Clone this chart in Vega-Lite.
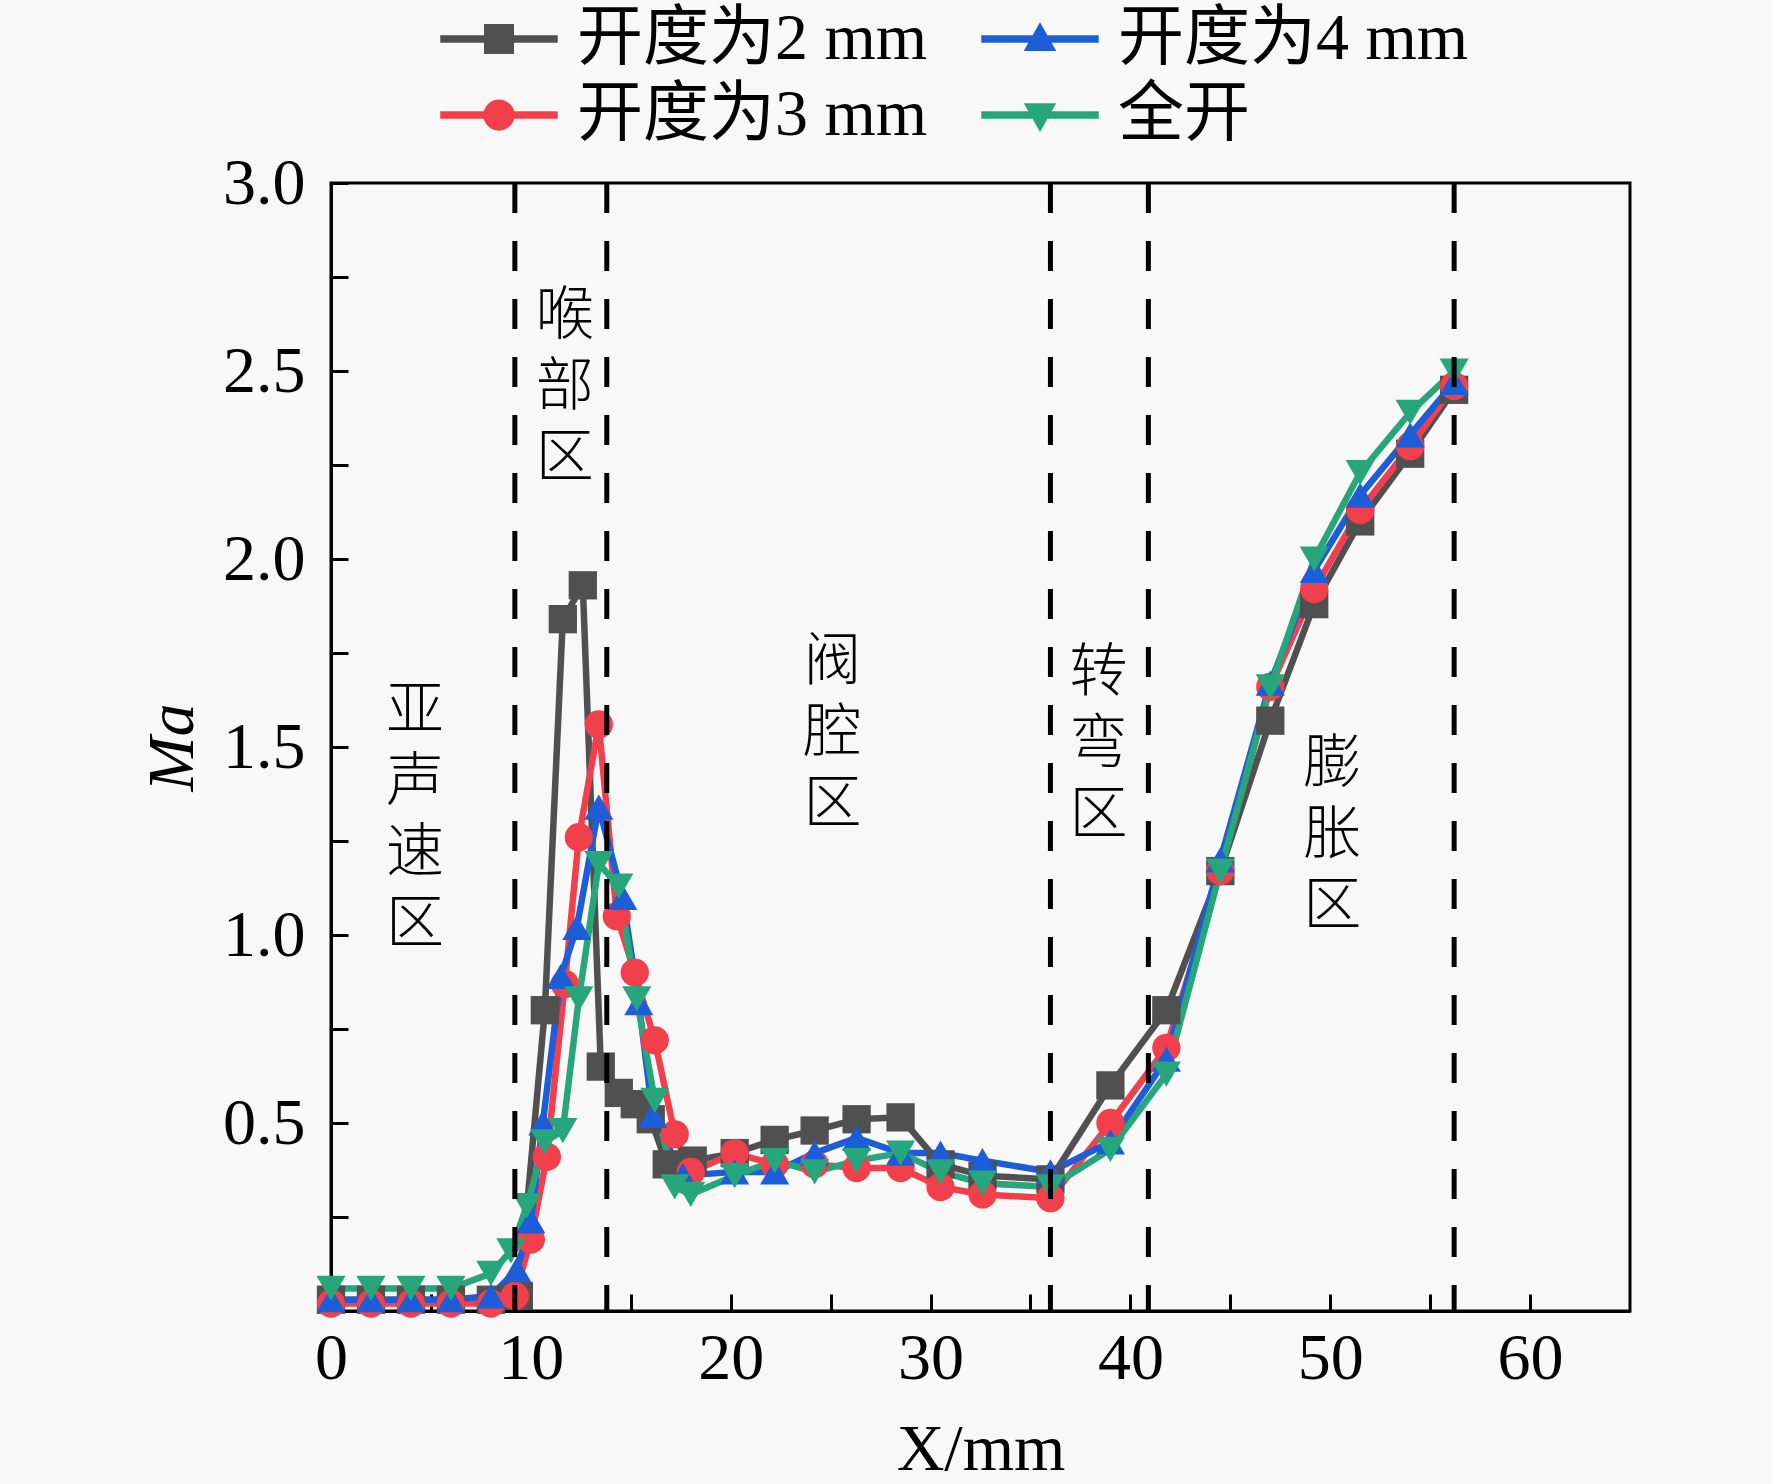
{
  "$schema": "https://vega.github.io/schema/vega-lite/v6.json",
  "width": 1299,
  "height": 1128,
  "autosize": {"type": "none"},
  "padding": {"left": 331, "top": 183, "right": 142, "bottom": 173},
  "background": "#f8f8f8",
  "config": {
    "font": "Liberation Serif, Noto Sans CJK SC",
    "view": {"stroke": "black", "strokeWidth": 3},
    "axis": {
      "grid": false,
      "domainColor": "black",
      "domainWidth": 3,
      "tickColor": "black",
      "tickWidth": 3,
      "labelColor": "black",
      "labelFont": "Liberation Serif",
      "labelFontSize": 66,
      "labelFlush": false,
      "titleFont": "Liberation Serif",
      "titleFontSize": 66,
      "titleFontWeight": "normal",
      "titleColor": "black"
    },
    "legend": {
      "title": null,
      "orient": "none",
      "legendX": 135,
      "legendY": -177,
      "columns": 2,
      "padding": 0,
      "columnPadding": 53,
      "rowPadding": 10,
      "labelFont": "Liberation Serif, Noto Sans CJK SC",
      "labelFontSize": 66,
      "labelColor": "black",
      "labelOffset": 45,
      "labelLimit": 0,
      "symbolSize": 625,
      "symbolOpacity": 1,
      "symbolStrokeWidth": 0
    }
  },
  "datasets": {
    "series": [
      {"s": "开度为2 mm", "x": 0, "y": 0.03},
      {"s": "开度为2 mm", "x": 2, "y": 0.03},
      {"s": "开度为2 mm", "x": 4, "y": 0.03},
      {"s": "开度为2 mm", "x": 6, "y": 0.03},
      {"s": "开度为2 mm", "x": 8, "y": 0.03},
      {"s": "开度为2 mm", "x": 9.4, "y": 0.04},
      {"s": "开度为2 mm", "x": 10.7, "y": 0.8},
      {"s": "开度为2 mm", "x": 11.6, "y": 1.84},
      {"s": "开度为2 mm", "x": 12.6, "y": 1.93},
      {"s": "开度为2 mm", "x": 13.5, "y": 0.65},
      {"s": "开度为2 mm", "x": 14.4, "y": 0.58},
      {"s": "开度为2 mm", "x": 15.2, "y": 0.55},
      {"s": "开度为2 mm", "x": 16.0, "y": 0.51},
      {"s": "开度为2 mm", "x": 16.8, "y": 0.39},
      {"s": "开度为2 mm", "x": 18.1, "y": 0.4},
      {"s": "开度为2 mm", "x": 20.2, "y": 0.42},
      {"s": "开度为2 mm", "x": 22.2, "y": 0.455},
      {"s": "开度为2 mm", "x": 24.2, "y": 0.48},
      {"s": "开度为2 mm", "x": 26.3, "y": 0.51},
      {"s": "开度为2 mm", "x": 28.5, "y": 0.515},
      {"s": "开度为2 mm", "x": 30.5, "y": 0.39},
      {"s": "开度为2 mm", "x": 32.6, "y": 0.36},
      {"s": "开度为2 mm", "x": 36.0, "y": 0.35},
      {"s": "开度为2 mm", "x": 39.0, "y": 0.6},
      {"s": "开度为2 mm", "x": 41.8, "y": 0.8},
      {"s": "开度为2 mm", "x": 44.5, "y": 1.17},
      {"s": "开度为2 mm", "x": 47.0, "y": 1.57},
      {"s": "开度为2 mm", "x": 49.2, "y": 1.88},
      {"s": "开度为2 mm", "x": 51.5, "y": 2.1},
      {"s": "开度为2 mm", "x": 54.0, "y": 2.28},
      {"s": "开度为2 mm", "x": 56.2, "y": 2.45},
      {"s": "开度为3 mm", "x": 0, "y": 0.02},
      {"s": "开度为3 mm", "x": 2, "y": 0.02},
      {"s": "开度为3 mm", "x": 4, "y": 0.02},
      {"s": "开度为3 mm", "x": 6, "y": 0.02},
      {"s": "开度为3 mm", "x": 8, "y": 0.02},
      {"s": "开度为3 mm", "x": 9.2, "y": 0.04},
      {"s": "开度为3 mm", "x": 10.0, "y": 0.19},
      {"s": "开度为3 mm", "x": 10.8, "y": 0.41},
      {"s": "开度为3 mm", "x": 11.7, "y": 0.87},
      {"s": "开度为3 mm", "x": 12.4, "y": 1.26},
      {"s": "开度为3 mm", "x": 13.4, "y": 1.56},
      {"s": "开度为3 mm", "x": 14.3, "y": 1.05},
      {"s": "开度为3 mm", "x": 15.2, "y": 0.9},
      {"s": "开度为3 mm", "x": 16.2, "y": 0.72},
      {"s": "开度为3 mm", "x": 17.2, "y": 0.47},
      {"s": "开度为3 mm", "x": 18.0, "y": 0.37},
      {"s": "开度为3 mm", "x": 20.2, "y": 0.42},
      {"s": "开度为3 mm", "x": 22.2, "y": 0.39},
      {"s": "开度为3 mm", "x": 24.2, "y": 0.39},
      {"s": "开度为3 mm", "x": 26.3, "y": 0.38},
      {"s": "开度为3 mm", "x": 28.5, "y": 0.38},
      {"s": "开度为3 mm", "x": 30.5, "y": 0.33},
      {"s": "开度为3 mm", "x": 32.6, "y": 0.31},
      {"s": "开度为3 mm", "x": 36.0, "y": 0.3},
      {"s": "开度为3 mm", "x": 39.0, "y": 0.5},
      {"s": "开度为3 mm", "x": 41.8, "y": 0.7},
      {"s": "开度为3 mm", "x": 44.5, "y": 1.17},
      {"s": "开度为3 mm", "x": 47.0, "y": 1.66},
      {"s": "开度为3 mm", "x": 49.2, "y": 1.92},
      {"s": "开度为3 mm", "x": 51.5, "y": 2.13},
      {"s": "开度为3 mm", "x": 54.0, "y": 2.3},
      {"s": "开度为3 mm", "x": 56.2, "y": 2.46},
      {"s": "开度为4 mm", "x": 0, "y": 0.03},
      {"s": "开度为4 mm", "x": 2, "y": 0.03},
      {"s": "开度为4 mm", "x": 4, "y": 0.03},
      {"s": "开度为4 mm", "x": 6, "y": 0.03},
      {"s": "开度为4 mm", "x": 8, "y": 0.04},
      {"s": "开度为4 mm", "x": 9.3, "y": 0.11},
      {"s": "开度为4 mm", "x": 10.0, "y": 0.24},
      {"s": "开度为4 mm", "x": 10.6, "y": 0.5},
      {"s": "开度为4 mm", "x": 11.5, "y": 0.89},
      {"s": "开度为4 mm", "x": 12.3, "y": 1.02},
      {"s": "开度为4 mm", "x": 13.4, "y": 1.34},
      {"s": "开度为4 mm", "x": 14.6, "y": 1.1},
      {"s": "开度为4 mm", "x": 15.4, "y": 0.82},
      {"s": "开度为4 mm", "x": 16.1, "y": 0.52},
      {"s": "开度为4 mm", "x": 17.6, "y": 0.36},
      {"s": "开度为4 mm", "x": 20.2, "y": 0.37},
      {"s": "开度为4 mm", "x": 22.2, "y": 0.37},
      {"s": "开度为4 mm", "x": 24.2, "y": 0.42},
      {"s": "开度为4 mm", "x": 26.3, "y": 0.46},
      {"s": "开度为4 mm", "x": 28.5, "y": 0.42},
      {"s": "开度为4 mm", "x": 30.5, "y": 0.42},
      {"s": "开度为4 mm", "x": 32.6, "y": 0.4},
      {"s": "开度为4 mm", "x": 36.0, "y": 0.37},
      {"s": "开度为4 mm", "x": 39.0, "y": 0.45},
      {"s": "开度为4 mm", "x": 41.8, "y": 0.67},
      {"s": "开度为4 mm", "x": 44.5, "y": 1.2},
      {"s": "开度为4 mm", "x": 47.0, "y": 1.67},
      {"s": "开度为4 mm", "x": 49.2, "y": 1.97},
      {"s": "开度为4 mm", "x": 51.5, "y": 2.17},
      {"s": "开度为4 mm", "x": 54.0, "y": 2.33},
      {"s": "开度为4 mm", "x": 56.2, "y": 2.47},
      {"s": "全开", "x": 0, "y": 0.06},
      {"s": "全开", "x": 2, "y": 0.06},
      {"s": "全开", "x": 4, "y": 0.06},
      {"s": "全开", "x": 6, "y": 0.06},
      {"s": "全开", "x": 8, "y": 0.1},
      {"s": "全开", "x": 9.0, "y": 0.16},
      {"s": "全开", "x": 9.8, "y": 0.28},
      {"s": "全开", "x": 10.7, "y": 0.45},
      {"s": "全开", "x": 11.6, "y": 0.48},
      {"s": "全开", "x": 12.4, "y": 0.83},
      {"s": "全开", "x": 13.4, "y": 1.19},
      {"s": "全开", "x": 14.4, "y": 1.13},
      {"s": "全开", "x": 15.3, "y": 0.83},
      {"s": "全开", "x": 16.2, "y": 0.56},
      {"s": "全开", "x": 17.2, "y": 0.33},
      {"s": "全开", "x": 18.0, "y": 0.31},
      {"s": "全开", "x": 20.2, "y": 0.36},
      {"s": "全开", "x": 22.2, "y": 0.4},
      {"s": "全开", "x": 24.2, "y": 0.37},
      {"s": "全开", "x": 26.3, "y": 0.4},
      {"s": "全开", "x": 28.5, "y": 0.42},
      {"s": "全开", "x": 30.5, "y": 0.37},
      {"s": "全开", "x": 32.6, "y": 0.34},
      {"s": "全开", "x": 36.0, "y": 0.33},
      {"s": "全开", "x": 39.0, "y": 0.43},
      {"s": "全开", "x": 41.8, "y": 0.63},
      {"s": "全开", "x": 44.5, "y": 1.17},
      {"s": "全开", "x": 47.0, "y": 1.66},
      {"s": "全开", "x": 49.2, "y": 2.0},
      {"s": "全开", "x": 51.5, "y": 2.23},
      {"s": "全开", "x": 54.0, "y": 2.39},
      {"s": "全开", "x": 56.2, "y": 2.5}
    ],
    "bounds": [
      {"x": 9.2},
      {"x": 13.8},
      {"x": 36.0},
      {"x": 40.9},
      {"x": 56.2}
    ],
    "zones": [
      {"name": "亚\n声\n速\n区", "x": 4.2, "y": 1.67},
      {"name": "喉\n部\n区", "x": 11.7, "y": 2.72},
      {"name": "阀\n腔\n区", "x": 25.1, "y": 1.8},
      {"name": "转\n弯\n区", "x": 38.4, "y": 1.77},
      {"name": "膨\n胀\n区", "x": 50.1, "y": 1.53}
    ]
  },
  "layer": [
    {
      "data": {"name": "series"},
      "encoding": {
        "x": {
          "field": "x",
          "type": "quantitative",
          "title": "X/mm",
          "scale": {"domain": [0, 65], "nice": false, "zero": false},
          "axis": {
            "values": [0, 5, 10, 15, 20, 25, 30, 35, 40, 45, 50, 55, 60],
            "labelExpr": "datum.value % 10 == 0 ? datum.label : ''",
            "tickSize": -17,
            "labelPadding": 32,
            "titlePadding": 26,
            "encode": {"ticks": {"update": {"y2": {"signal": "datum.value % 10 == 0 ? -17 : -9"}}}}
          }
        },
        "y": {
          "field": "y",
          "type": "quantitative",
          "title": "Ma",
          "scale": {"domain": [0, 3], "nice": false},
          "axis": {
            "values": [0.25, 0.5, 0.75, 1, 1.25, 1.5, 1.75, 2, 2.25, 2.5, 2.75, 3],
            "format": ".1f",
            "labelExpr": "abs(datum.value * 2 - round(datum.value * 2)) < 0.01 ? datum.label : ''",
            "tickSize": -17,
            "labelPadding": 43,
            "titlePadding": 16,
            "titleFontStyle": "italic",
            "encode": {"ticks": {"update": {"x2": {"signal": "abs(datum.value * 2 - round(datum.value * 2)) < 0.01 ? 17 : 9"}}}}
          }
        },
        "color": {
          "field": "s",
          "type": "nominal",
          "scale": {
            "domain": ["开度为2 mm", "开度为3 mm", "开度为4 mm", "全开"],
            "range": ["#505050", "#f23f4c", "#1d5ed8", "#26a67a"]
          }
        }
      },
      "layer": [
        {"mark": {"type": "line", "strokeWidth": 6.5}},
        {
          "transform": [{"filter": "datum.s == '开度为2 mm'"}],
          "mark": {"type": "point", "shape": "square", "filled": true, "size": 800, "opacity": 1}
        },
        {
          "transform": [{"filter": "datum.s == '开度为3 mm'"}],
          "mark": {"type": "point", "shape": "circle", "filled": true, "size": 800, "opacity": 1}
        },
        {
          "transform": [{"filter": "datum.s == '开度为4 mm'"}],
          "mark": {"type": "point", "shape": "triangle-up", "filled": true, "size": 850, "opacity": 1}
        },
        {
          "transform": [{"filter": "datum.s == '全开'"}],
          "mark": {"type": "point", "shape": "triangle-down", "filled": true, "size": 850, "opacity": 1}
        },
        {
          "mark": {"type": "point", "filled": true, "size": 10, "opacity": 0},
          "encoding": {
            "shape": {
              "field": "s",
              "type": "nominal",
              "scale": {
                "domain": ["开度为2 mm", "开度为3 mm", "开度为4 mm", "全开"],
                "range": [
                  "M-4.7,-0.3H4.7V0.3H-4.7Z M-1.2,-1.2H1.2V1.2H-1.2Z",
                  "M-4.7,-0.3H4.7V0.3H-4.7Z M1.25,0A1.25,1.25 0 1,1 -1.25,0A1.25,1.25 0 1,1 1.25,0Z",
                  "M-4.7,-0.3H4.7V0.3H-4.7Z M0,-1.35L1.3,0.95H-1.3Z",
                  "M-4.7,-0.3H4.7V0.3H-4.7Z M-1.3,-0.95H1.3L0,1.35Z"
                ]
              }
            }
          }
        }
      ]
    },
    {
      "data": {"name": "bounds"},
      "mark": {"type": "rule", "color": "black", "strokeWidth": 5, "strokeDash": [30, 28]},
      "encoding": {"x": {"field": "x", "type": "quantitative"}}
    },
    {
      "data": {"name": "zones"},
      "mark": {"type": "text", "lineBreak": "\n", "fontSize": 58, "lineHeight": 71, "baseline": "top", "align": "center", "color": "black", "font": "Noto Sans CJK SC", "fontWeight": 300},
      "encoding": {
        "x": {"field": "x", "type": "quantitative"},
        "y": {"field": "y", "type": "quantitative"},
        "text": {"field": "name", "type": "nominal"}
      }
    }
  ]
}
